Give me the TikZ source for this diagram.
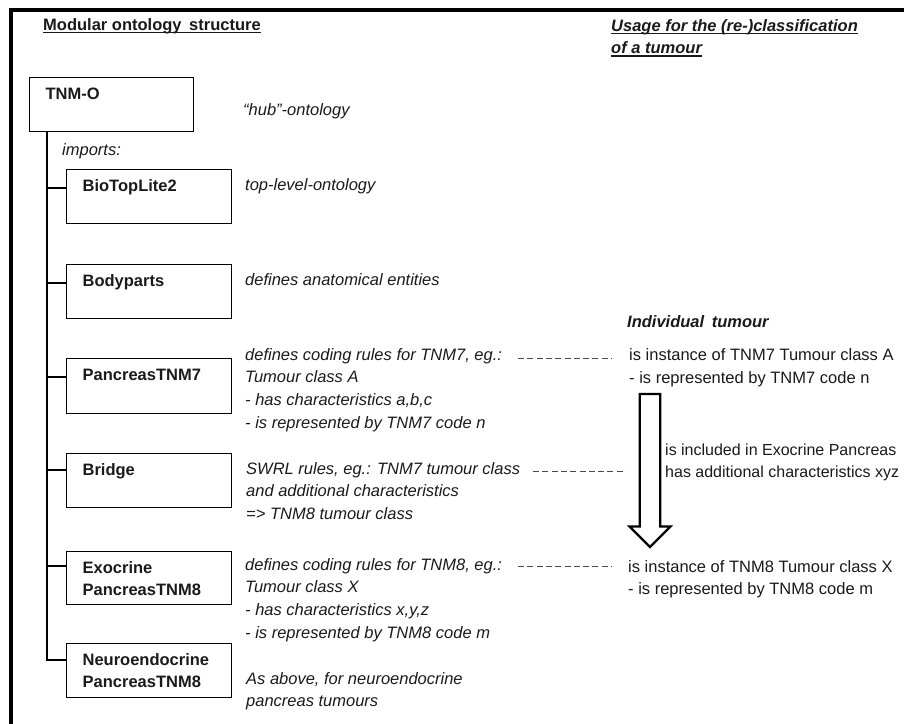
\documentclass[tikz,border=0pt]{standalone}
\usepackage{fontspec}
\setmainfont{Liberation Sans}
\usetikzlibrary{calc}
\newcommand{\ls}{\rule{0pt}{12pt}}
\definecolor{txt}{HTML}{1A1A1A}
\definecolor{dashc}{HTML}{484848}
\tikzset{
  base/.style={inner sep=0pt, text=txt, font=\fontsize{16.5}{22.7}\selectfont},
  title/.style={base, font=\fontsize{16.5}{22}\selectfont\bfseries},
  ititle/.style={base, font=\fontsize{16.5}{22}\selectfont\bfseries\itshape},
  desc/.style={base, anchor=north west, align=left, font=\fontsize{16.5}{22.7}\selectfont\itshape},
  rdesc/.style={base, anchor=north west, align=left, font=\fontsize{16.5}{22.6}\selectfont},
  modbox/.style={draw=black, line width=1.3pt, anchor=north west, inner xsep=16pt, inner ysep=10pt,
     text=txt, font=\fontsize{16.5}{21.5}\selectfont\bfseries},
  tree/.style={draw=black, line width=1.4pt},
  uline/.style={draw=txt, line width=1.4pt},
  dashline/.style={draw=dashc, line width=1pt, dash pattern=on 6pt off 3.3pt},
  blockarrow/.style={draw=black, line width=2.3pt, line join=miter, fill=white}
}
\begin{document}
\begin{tikzpicture}[x=1pt,y=-1pt]
\useasboundingbox (0,0) rectangle (904,723);
% frame (cut by the picture's edges)
\draw[line width=4pt, line join=miter] (10.5,740) -- (10.5,9.5) -- (920,9.5);

% titles
\node[title, anchor=base west] (t1) at (43,30.5) {Modular ontology\hspace{3pt} structure};
\draw[uline] ($(t1.base west)+(0,2.2)$) -- ($(t1.base east)+(0,2.2)$);
\node[ititle, anchor=base west] (t2a) at (611,31.5) {Usage for the (re-)classification};
\draw[uline] ($(t2a.base west)+(0,2.2)$) -- ($(t2a.base east)+(0,2.2)$);
\node[ititle, anchor=base west] (t2b) at (611,53.7) {of a tumour};
\draw[uline] ($(t2b.base west)+(0,2.2)$) -- ($(t2b.base east)+(0,2.2)$);

% module boxes
\node[modbox] (tnmo) at (29,77) {\parbox[t][34pt][t]{132pt}{\ls TNM-O}};
\node[modbox] (b1) at (66,169) {\parbox[t][34pt][t]{133pt}{\ls BioTopLite2}};
\node[modbox] (b2) at (66,263.5) {\parbox[t][34pt][t]{133pt}{\ls Bodyparts}};
\node[modbox] (b3) at (66,358) {\parbox[t][35pt][t]{133pt}{\ls PancreasTNM7}};
\node[modbox] (b4) at (66,453) {\parbox[t][34pt][t]{133pt}{\ls Bridge}};
\node[modbox] (b5) at (66,551) {\parbox[t][33pt][t]{133pt}{\ls Exocrine\\PancreasTNM8}};
\node[modbox] (b6) at (66,643) {\parbox[t][34pt][t]{133pt}{\ls Neuroendocrine\\PancreasTNM8}};

% import tree
\coordinate (spinetop) at ($(tnmo.south west)+(18,0)$);
\draw[tree] (spinetop) |- ($(b1.north west)+(0,19)$);
\draw[tree] (spinetop) |- ($(b2.north west)+(0,19.5)$);
\draw[tree] (spinetop) |- ($(b3.north west)+(0,19)$);
\draw[tree] (spinetop) |- ($(b4.north west)+(0,17)$);
\draw[tree] (spinetop) |- ($(b5.north west)+(0,15)$);
\draw[tree] (spinetop) |- ($(b6.north west)+(0,17)$);

\node[desc] (imp) at (62,143) {\ls imports:};

% descriptions
\node[desc] (dhub) at (243,103) {\ls “hub”-ontology};
\node[desc] (d1) at (245,178) {\ls top-level-ontology};
\node[desc] (d2) at (245,273) {\ls defines anatomical entities};
\node[desc] (d3) at (245,348) {\ls defines coding rules for TNM7, eg.:\\Tumour class A\\- has characteristics a,b,c\\- is represented by TNM7 code n};
\node[desc] (d4) at (246,462) {\ls SWRL rules, eg.: TNM7 tumour class\\and additional characteristics\\=> TNM8 tumour class};
\node[desc] (d5) at (245,558) {\ls defines coding rules for TNM8, eg.:\\Tumour class X\\- has characteristics x,y,z\\- is represented by TNM8 code m};
\node[desc] (d6) at (246,672) {\ls As above, for neuroendocrine\\pancreas tumours};

% usage side
\node[ititle, anchor=base west] (indiv) at (627,327) {Individual\hspace{3pt} tumour};
\node[rdesc] (inst7) at (629,348.5) {\ls is instance of TNM7 Tumour class A\\- is represented by TNM7 code n};
\node[rdesc, font=\fontsize{16}{22.6}\selectfont] (incl) at (665,443) {\ls is included in Exocrine Pancreas\\has additional characteristics xyz};
\node[rdesc] (inst8) at (628,560) {\ls is instance of TNM8 Tumour class X\\- is represented by TNM8 code m};

% dashed links
\coordinate (l7a) at (518,358.3); \coordinate (l7b) at (612,358.3);
\draw[dashline] (l7a) -- (l7b);
\coordinate (lba) at (533,471); \coordinate (lbb) at (626,471);
\draw[dashline] (lba) -- (lbb);
\coordinate (l8a) at (518,566.5); \coordinate (l8b) at (612,566.5);
\draw[dashline] (l8a) -- (l8b);

% hollow block arrow
\coordinate (arrtop) at (650,394);
\coordinate (arrtip) at (650,547);
\draw[blockarrow] ($(arrtop)+(-10.3,0)$) -- ($(arrtop)+(10.3,0)$)
  -- ($(arrtip)+(10.3,-20.5)$) -- ($(arrtip)+(20.5,-20.5)$) -- (arrtip)
  -- ($(arrtip)+(-20.5,-20.5)$) -- ($(arrtip)+(-10.3,-20.5)$) -- cycle;
\end{tikzpicture}
\end{document}
